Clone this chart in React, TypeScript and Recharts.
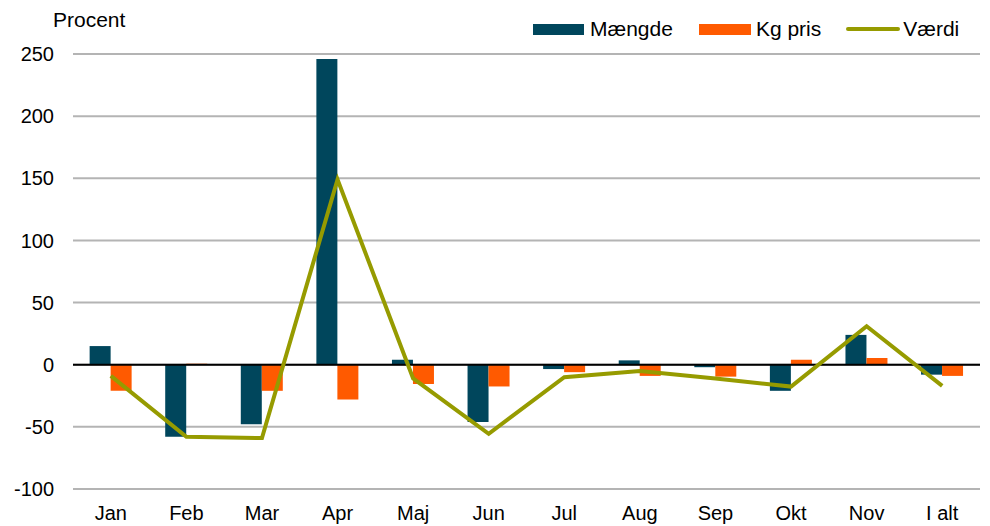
import React from 'react';
import { ComposedChart, Bar, Line, XAxis, YAxis, CartesianGrid, ReferenceLine } from 'recharts';

const months = ['Jan', 'Feb', 'Mar', 'Apr', 'Maj', 'Jun', 'Jul', 'Aug', 'Sep', 'Okt', 'Nov', 'I alt'];
const maengde = [15, -58, -48, 246, 4, -46, -3.5, 3.5, -2, -21, 24, -8];
const kgPris = [-21, 0.8, -21, -28, -15.5, -17.5, -6, -9, -9.6, 4, 5.4, -9];
const vaerdi = [-9, -58, -59, 149, -11, -55.6, -10, -5, -11, -17.6, 31, -17];
const yTicks = [-100, -50, 0, 50, 100, 150, 200, 250];

const chartData = months.map((m, i) => ({
  month: m,
  maengde: maengde[i],
  kgPris: kgPris[i],
  vaerdi: vaerdi[i],
}));

const FONT = '"Liberation Sans", Arial, sans-serif';

const LegendBox = () => (
  <div
    style={{
      position: 'absolute',
      left: 533,
      top: 17,
      display: 'flex',
      alignItems: 'center',
      fontFamily: FONT,
      fontSize: 21,
      color: '#000',
      whiteSpace: 'nowrap',
    }}
  >
    <span style={{ display: 'inline-block', width: 51, height: 11, background: '#00465c', marginRight: 6 }} />
    <span style={{ marginRight: 26 }}>Mængde</span>
    <span style={{ display: 'inline-block', width: 52, height: 11, background: '#ff5a00', marginRight: 5 }} />
    <span style={{ marginRight: 25 }}>Kg pris</span>
    <span style={{ display: 'inline-block', width: 54, height: 4, background: '#969b00', borderRadius: 2, marginRight: 3 }} />
    <span>Værdi</span>
  </div>
);

export default function App() {
  return (
    <div style={{ position: 'absolute', left: 0, top: 0, width: 990, height: 526, background: '#fff', fontFamily: FONT }}>
      <div style={{ position: 'absolute', left: 53, top: 8, fontSize: 21, color: '#000' }}>Procent</div>
      <LegendBox />
      <ComposedChart
        width={990}
        height={526}
        data={chartData}
        margin={{ top: 54, right: 10, left: 0, bottom: 7 }}
        barGap={0}
        barCategoryGap="22%"
      >
        <CartesianGrid vertical={false} stroke="#b4b4b4" strokeWidth={2} />
        <XAxis
          dataKey="month"
          axisLine={false}
          tickLine={false}
          tickSize={0}
          tickMargin={17}
          height={30}
          interval={0}
          tick={{ fill: '#000', fontSize: 20, fontFamily: FONT }}
        />
        <YAxis
          domain={[-100, 250]}
          ticks={yTicks}
          width={73}
          axisLine={false}
          tickLine={false}
          tickSize={0}
          tickMargin={19}
          interval={0}
          tick={{ fill: '#000', fontSize: 20, fontFamily: FONT }}
        />
        <ReferenceLine y={0} stroke="#000" strokeWidth={2} />
        <Bar dataKey="maengde" name="Mængde" fill="#00465c" isAnimationActive={false} />
        <Bar dataKey="kgPris" name="Kg pris" fill="#ff5a00" isAnimationActive={false} />
        <Line
          dataKey="vaerdi"
          name="Værdi"
          type="linear"
          stroke="#969b00"
          strokeWidth={4}
          dot={false}
          isAnimationActive={false}
        />
      </ComposedChart>
    </div>
  );
}
